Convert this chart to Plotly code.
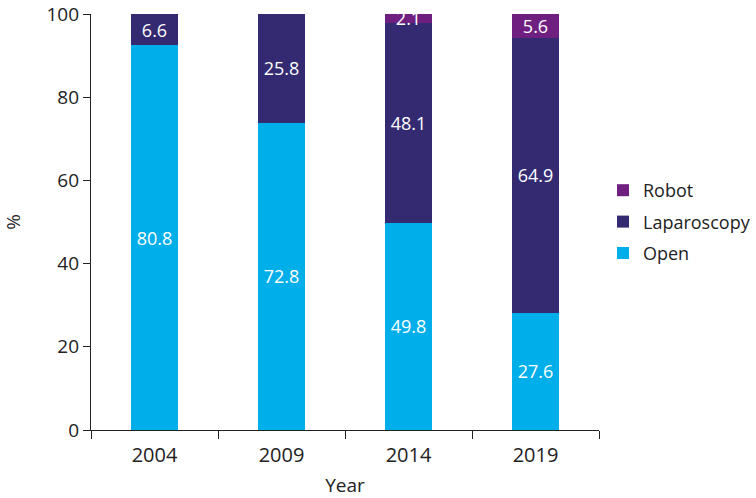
import plotly.graph_objects as go

years = ["2004", "2009", "2014", "2019"]
open_vals = [80.8, 72.8, 49.8, 27.6]
lap_vals = [6.6, 25.8, 48.1, 64.9]
robot_vals = [0, 0, 2.1, 5.6]
robot_text = ["", "", "2.1", "5.6"]

font_family = "Open Sans, Roboto, Arial, sans-serif"
txt = dict(color="white", size=18, family=font_family)

fig = go.Figure()
fig.add_trace(go.Bar(x=years, y=open_vals, name="Open", marker_color="#00AEEA",
                     text=[str(v) for v in open_vals], textposition="inside",
                     insidetextanchor="middle", textfont=txt, constraintext="none",
                     legendgroup="o", legendrank=3))
fig.add_trace(go.Bar(x=years, y=lap_vals, name="Laparoscopy", marker_color="#332A72",
                     text=[str(v) for v in lap_vals], textposition="inside",
                     insidetextanchor="middle", textfont=txt, constraintext="none",
                     legendgroup="l", legendrank=2))
fig.add_trace(go.Bar(x=years, y=robot_vals, name="Robot", marker_color="#6E1F80",
                     text=robot_text, textposition="inside",
                     insidetextanchor="middle", textfont=txt, constraintext="none",
                     legendgroup="r", legendrank=1))

fig.update_traces(marker_line_width=0, cliponaxis=False)

fig.update_layout(
    width=756, height=498,
    barmode="stack", barnorm="percent", bargap=0.63,
    plot_bgcolor="white", paper_bgcolor="white",
    margin=dict(l=91, r=157, t=14, b=68),
    font=dict(family=font_family, color="#222222", size=20),
    legend=dict(xref="container", x=1.0, xanchor="right",
                y=0.5, yanchor="middle",
                font=dict(size=18), traceorder="grouped",
                itemwidth=30, tracegroupgap=5),
    xaxis=dict(title=dict(text="Year", standoff=20, font=dict(size=19)),
               showline=True, linecolor="#222222", linewidth=1.2,
               ticks="outside", ticklen=8, tickcolor="#222222",
               ticklabelstandoff=7,
               tickson="boundaries", showgrid=False, automargin=False),
    yaxis=dict(title=dict(text="%", standoff=45, font=dict(size=19)),
               range=[0, 100.02], tickvals=[0, 20, 40, 60, 80, 100],
               tickfont=dict(size=19),
               showline=True, linecolor="#222222", linewidth=1.2,
               ticks="outside", ticklen=7, tickcolor="#222222",
               ticklabeloverflow="allow",
               showgrid=False, zeroline=False, automargin=False),
    showlegend=True,
)

fig.write_html("out.html", config={"displayModeBar": False},
               post_script="document.body.style.margin='0';document.body.style.overflow='hidden';")
